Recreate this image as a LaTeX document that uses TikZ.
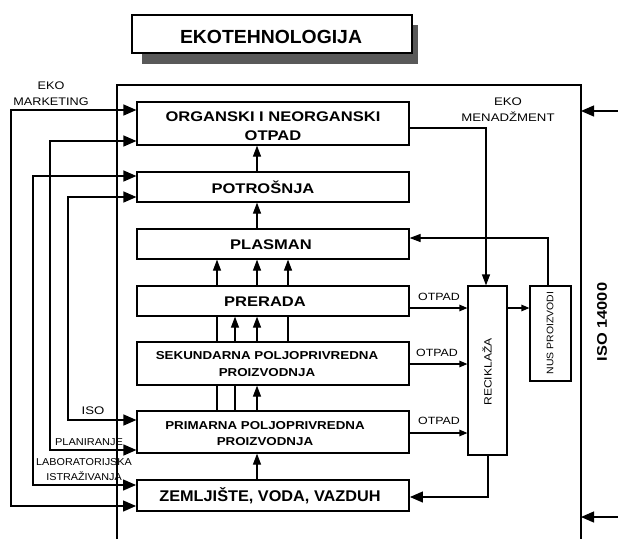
\documentclass[tikz,border=0pt]{standalone}
\usepackage{fontspec}
\setmainfont{Liberation Sans}
\usepackage{graphicx}
\usetikzlibrary{arrows.meta}
\newcommand{\sx}[2][1.18]{\scalebox{#1}[1]{#2}}
\begin{document}
\begin{tikzpicture}[x=1pt,y=-1pt,
  box/.style={draw, line width=1.2pt, inner sep=0pt, minimum width=272pt},
  conn/.style={line width=1.2pt},
  bt/.tip={Triangle[length=13pt,width=11pt]},
  mt/.tip={Triangle[length=11pt,width=8pt]},
  st/.tip={Triangle[length=8pt,width=6.5pt]},
  bigtxt/.style={font=\bfseries\fontsize{14}{19}\selectfont, align=center, inner sep=0pt},
  midtxt/.style={font=\bfseries\fontsize{11.5}{16}\selectfont, align=center, inner sep=0pt},
  lbl/.style={font=\fontsize{11}{16}\selectfont, align=center, inner sep=0pt},
  slbl/.style={font=\fontsize{10}{15}\selectfont, align=center, inner sep=0pt}]
\useasboundingbox (0,0) rectangle (618,539);
\fill[white] (0,0) rectangle (618,539);

% title
\fill[black!65] (142,25) rectangle (418,64);
\node[draw, fill=white, line width=1.3pt, minimum width=280pt, minimum height=38pt, inner sep=0pt] (title) at (272,34) {};
\node[font=\bfseries\fontsize{19}{22}\selectfont, inner sep=0pt] (titletxt) at (271,37) {\sx[1.02]{EKOTEHNOLOGIJA}};

% frame
\coordinate (fl) at (117,539);
\coordinate (fr) at (581,539);
\draw[line width=1.5pt] (fl) -- (117,85) -- (581,85) -- (fr);

% boxes
\node[box, minimum height=43pt] (b1) at (273,123.5) {};
\node[box, minimum height=30pt] (b2) at (273,187) {};
\node[box, minimum height=30pt] (b3) at (273,244) {};
\node[box, minimum height=30pt] (b4) at (273,301) {};
\node[box, minimum height=43pt] (b5) at (273,363.5) {};
\node[box, minimum height=42pt] (b6) at (273,432) {};
\node[box, line width=1.9pt, minimum height=31pt] (b7) at (273,495.5) {};
\node[draw, line width=1.2pt, minimum width=39pt, minimum height=169pt, inner sep=0pt] (rec) at (487.5,370.5) {};
\node[draw, line width=1.2pt, minimum width=41pt, minimum height=95pt, inner sep=0pt] (nus) at (550.5,333.5) {};

% box texts
\node[bigtxt] (t1) at (273,126) {\sx{ORGANSKI I NEORGANSKI}\\\sx{OTPAD}};
\node[bigtxt] (t2) at (263,187.5) {\sx{POTROŠNJA}};
\node[bigtxt] (t3) at (271,245) {\sx{PLASMAN}};
\node[bigtxt] (t4) at (265,302) {\sx{PRERADA}};
\node[midtxt, font=\bfseries\fontsize{11.5}{17}\selectfont] (t5) at (267,364.5) {\sx[1.16]{SEKUNDARNA POLJOPRIVREDNA}\\\sx[1.16]{PROIZVODNJA}};
\node[midtxt] (t6) at (265,433.5) {\sx[1.16]{PRIMARNA POLJOPRIVREDNA}\\\sx[1.16]{PROIZVODNJA}};
\node[font=\bfseries\fontsize{15.5}{18}\selectfont, inner sep=0pt] (t7) at (270,496) {\sx[1.05]{ZEMLJIŠTE, VODA, VAZDUH}};
\node[lbl, font=\fontsize{10.5}{14}\selectfont, rotate=90] (trec) at (487,372) {\sx[1.15]{RECIKLAŽA}};
\node[slbl, font=\fontsize{9.5}{12}\selectfont, rotate=90] (tnus) at (550,333) {\sx[1.1]{NUS PROIZVODI}};
\node[font=\bfseries\fontsize{14}{16}\selectfont, rotate=90, inner sep=0pt] (tiso) at (602,322) {\sx[1.17]{ISO 14000}};

% labels
\node[lbl] (lmark) at (51,94) {\sx[1.15]{EKO}\\\sx[1.15]{MARKETING}};
\node[lbl] (lmen) at (508,110) {\sx[1.2]{EKO}\\\sx[1.2]{MENADŽMENT}};
\node[lbl] (liso) at (93,411) {\sx[1.2]{ISO}};
\node[slbl] (lplan) at (89,442) {\sx[1.1]{PLANIRANJE}};
\node[slbl] (llab) at (84,469.5) {\sx[1.08]{LABORATORIJSKA}\\\sx[1.08]{ISTRAŽIVANJA}};
\node[lbl, font=\fontsize{10.5}{14}\selectfont] (o1) at (439,297) {\sx{OTPAD}};
\node[lbl, font=\fontsize{10.5}{14}\selectfont] (o2) at (437,353) {\sx{OTPAD}};
\node[lbl, font=\fontsize{10.5}{14}\selectfont] (o3) at (439,421) {\sx{OTPAD}};

% vertical flow
\draw[conn, -mt] (b2.north -| 257,0) -- (b1.south -| 257,0);
\draw[conn, -mt] (b3.north -| 257,0) -- (b2.south -| 257,0);
\foreach \xx in {217,257,288} \draw[conn, -mt] (b4.north -| \xx,0) -- (b3.south -| \xx,0);
\foreach \xx in {235,257} \draw[conn, -mt] (b5.north -| \xx,0) -- (b4.south -| \xx,0);
\foreach \xx in {217,288} \draw[conn] (b5.north -| \xx,0) -- (b4.south -| \xx,0);
\draw[conn, -mt] (b6.north -| 257,0) -- (b5.south -| 257,0);
\foreach \xx in {217,235} \draw[conn] (b6.north -| \xx,0) -- (b5.south -| \xx,0);
\draw[conn, -mt] (b7.north -| 257,0) -- (b6.south -| 257,0);

% left feedback loops
\draw[conn, bt-bt] (b1.west |- 0,110) -- (11,110) -- (11,506) -- (b7.west |- 0,506);
\draw[conn, bt-bt] (b1.west |- 0,141) -- (50,141) -- (50,450) -- (b6.west |- 0,450);
\draw[conn, bt-bt] (b2.west |- 0,176) -- (33,176) -- (33,485) -- (b7.west |- 0,485);
\draw[conn, bt-bt] (b2.west |- 0,197) -- (68,197) -- (68,420) -- (b6.west |- 0,420);

% right side
\draw[conn, -mt] (b1.east |- 0,128) -- (486,128) -- (rec.north -| 486,0);
\draw[conn, -mt] (nus.north -| 548,0) -- (548,238) -- (b3.east |- 0,238);
\draw[conn, -st] (rec.east |- 0,308) -- (nus.west |- 0,308);
\draw[conn, -st] (b4.east |- 0,308) -- (rec.west |- 0,308);
\draw[conn, -st] (b5.east |- 0,364) -- (rec.west |- 0,364);
\draw[conn, -st] (b6.east |- 0,433) -- (rec.west |- 0,433);
\draw[conn, -bt] (rec.south -| 488,0) -- (488,497) -- (b7.east |- 0,497);

% outside arrows into frame
\coordinate (in1) at (618,111);
\coordinate (in2) at (618,517);
\draw[conn, -bt] (in1) -- (581,111);
\draw[conn, -bt] (in2) -- (581,517);
\end{tikzpicture}
\end{document}
